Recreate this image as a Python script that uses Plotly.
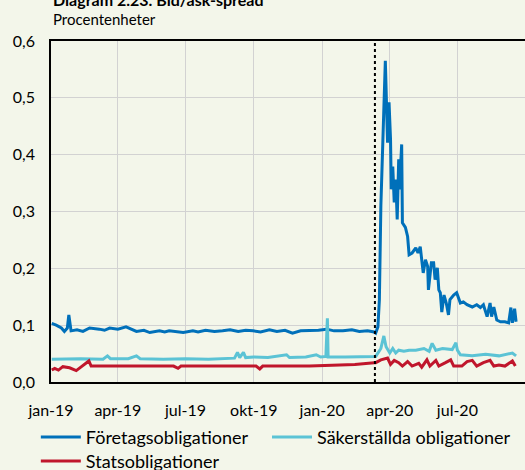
import plotly.graph_objects as go

# ---------------- data ----------------
foretag_dates = [
    "2019-01-02", "2019-01-08", "2019-01-15", "2019-01-19", "2019-01-23", "2019-01-25", "2019-01-28",
    "2019-02-05", "2019-02-13", "2019-02-22", "2019-03-07", "2019-03-14", "2019-03-21", "2019-04-01",
    "2019-04-12", "2019-04-19", "2019-04-26", "2019-05-06", "2019-05-14", "2019-05-27", "2019-06-03",
    "2019-06-09", "2019-06-18", "2019-06-28", "2019-07-11", "2019-07-18", "2019-07-28", "2019-08-09",
    "2019-08-20", "2019-08-30", "2019-09-10", "2019-09-20", "2019-09-30", "2019-10-10", "2019-10-22",
    "2019-11-01", "2019-11-12", "2019-11-22", "2019-12-03", "2019-12-15", "2019-12-27", "2020-01-07",
    "2020-01-17", "2020-01-29", "2020-02-10", "2020-02-20", "2020-03-02", "2020-03-11", "2020-03-13",
    "2020-03-16", "2020-03-18", "2020-03-20", "2020-03-24", "2020-03-26", "2020-03-29", "2020-03-31",
    "2020-04-02", "2020-04-03", "2020-04-05", "2020-04-07", "2020-04-09", "2020-04-11", "2020-04-13",
    "2020-04-14", "2020-04-17", "2020-04-18", "2020-04-22", "2020-04-25", "2020-04-27", "2020-05-01",
    "2020-05-06", "2020-05-09", "2020-05-12", "2020-05-14", "2020-05-16", "2020-05-19", "2020-05-22",
    "2020-05-23", "2020-05-27", "2020-05-30", "2020-06-01", "2020-06-04", "2020-06-06", "2020-06-08",
    "2020-06-10", "2020-06-13", "2020-06-16", "2020-06-19", "2020-06-21", "2020-06-26", "2020-06-30",
    "2020-07-05", "2020-07-09", "2020-07-14", "2020-07-21", "2020-07-27", "2020-08-01", "2020-08-05",
    "2020-08-10", "2020-08-14", "2020-08-16", "2020-08-19", "2020-08-23", "2020-08-28", "2020-09-03",
    "2020-09-08", "2020-09-11", "2020-09-13", "2020-09-16", "2020-09-18",
]
foretag = [
    0.103, 0.100, 0.095, 0.089, 0.095, 0.118, 0.090,
    0.092, 0.089, 0.095, 0.093, 0.091, 0.095, 0.093,
    0.097, 0.093, 0.089, 0.091, 0.087, 0.090, 0.088,
    0.090, 0.088, 0.087, 0.090, 0.088, 0.091, 0.089,
    0.090, 0.092, 0.089, 0.091, 0.090, 0.088, 0.092,
    0.089, 0.091, 0.086, 0.090, 0.090, 0.091, 0.093,
    0.090, 0.090, 0.092, 0.089, 0.090, 0.088, 0.086,
    0.097, 0.145, 0.310, 0.485, 0.565, 0.421, 0.492,
    0.427, 0.339, 0.379, 0.316, 0.356, 0.286, 0.392,
    0.339, 0.418, 0.280, 0.272, 0.256, 0.224, 0.227,
    0.236, 0.227, 0.238, 0.215, 0.192, 0.215, 0.203,
    0.162, 0.210, 0.210, 0.180, 0.201, 0.162, 0.157,
    0.123, 0.153, 0.139, 0.118, 0.145, 0.153, 0.157,
    0.139, 0.141, 0.136, 0.132, 0.136, 0.131, 0.136,
    0.115, 0.139, 0.115, 0.132, 0.109, 0.106, 0.106,
    0.104, 0.131, 0.104, 0.129, 0.106,
]

sakerstallda_dates = [
    "2019-01-02", "2019-02-10", "2019-03-12", "2019-03-18", "2019-03-22", "2019-04-15", "2019-04-26",
    "2019-05-01", "2019-06-01", "2019-07-01", "2019-08-01", "2019-09-05", "2019-09-09", "2019-09-12",
    "2019-09-17", "2019-09-20", "2019-10-01", "2019-10-20", "2019-11-14", "2019-11-18", "2019-12-10",
    "2019-12-24", "2019-12-30", "2020-01-06", "2020-01-08", "2020-01-09", "2020-02-01", "2020-03-01",
    "2020-03-11", "2020-03-13", "2020-03-20", "2020-03-24", "2020-03-27", "2020-04-01", "2020-04-05",
    "2020-04-09", "2020-04-13", "2020-04-20", "2020-04-27", "2020-05-06", "2020-05-17", "2020-05-24",
    "2020-05-28", "2020-06-02", "2020-06-11", "2020-06-24", "2020-06-29", "2020-07-01", "2020-07-05",
    "2020-07-21", "2020-08-08", "2020-08-26", "2020-09-13", "2020-09-18",
]
sakerstallda = [
    0.040, 0.041, 0.040, 0.046, 0.041, 0.041, 0.046,
    0.041, 0.040, 0.041, 0.040, 0.042, 0.052, 0.043,
    0.052, 0.043, 0.044, 0.043, 0.048, 0.043, 0.044,
    0.048, 0.044, 0.045, 0.112, 0.044, 0.044, 0.045,
    0.045, 0.045, 0.059, 0.081, 0.062, 0.051, 0.059,
    0.051, 0.056, 0.054, 0.056, 0.056, 0.059, 0.054,
    0.068, 0.056, 0.059, 0.057, 0.069, 0.056, 0.048,
    0.046, 0.049, 0.046, 0.051, 0.046,
]

stats_dates = [
    "2019-01-02", "2019-01-06", "2019-01-11", "2019-01-17", "2019-01-26", "2019-02-04", "2019-02-11",
    "2019-02-21", "2019-02-24", "2019-04-15", "2019-06-15", "2019-06-21", "2019-06-25", "2019-08-15",
    "2019-10-04", "2019-10-09", "2019-10-13", "2019-12-15", "2020-02-14", "2020-03-11", "2020-03-13",
    "2020-03-20", "2020-03-29", "2020-04-02", "2020-04-07", "2020-04-13", "2020-04-18", "2020-04-25",
    "2020-05-01", "2020-05-10", "2020-05-14", "2020-05-21", "2020-05-25", "2020-06-02", "2020-06-06",
    "2020-06-15", "2020-06-22", "2020-06-26", "2020-07-07", "2020-07-14", "2020-07-21", "2020-07-27",
    "2020-08-05", "2020-08-14", "2020-08-19", "2020-08-26", "2020-09-03", "2020-09-13", "2020-09-17",
]
stats = [
    0.021, 0.024, 0.021, 0.027, 0.025, 0.020, 0.027,
    0.037, 0.028, 0.028, 0.028, 0.024, 0.028, 0.028,
    0.028, 0.023, 0.028, 0.028, 0.031, 0.034, 0.034,
    0.039, 0.042, 0.031, 0.038, 0.034, 0.028, 0.036,
    0.028, 0.033, 0.026, 0.039, 0.028, 0.038, 0.028,
    0.034, 0.039, 0.028, 0.028, 0.036, 0.038, 0.028,
    0.034, 0.038, 0.028, 0.030, 0.028, 0.037, 0.028,
]

tick_dates = ["2019-01-01", "2019-04-01", "2019-07-01", "2019-10-01",
              "2020-01-01", "2020-04-01", "2020-07-01"]
tick_labels = ["jan-19", "apr-19", "jul-19", "okt-19", "jan-20", "apr-20", "jul-20"]
event_date = "2020-03-12"

series_names = ["Företagsobligationer", "Säkerställda obligationer", "Statsobligationer"]
series_colors = ["#0070BA", "#5BC3D5", "#C0162C"]

# ---------------- figure ----------------
BG = "#F3F6EA"
FONT = "Lato, 'Open Sans', sans-serif"

fig = go.Figure()
for name, xs, ys, col, leg in [
    (series_names[0], foretag_dates, foretag, series_colors[0], "legend"),
    (series_names[1], sakerstallda_dates, sakerstallda, series_colors[1], "legend2"),
    (series_names[2], stats_dates, stats, series_colors[2], "legend3"),
]:
    fig.add_trace(go.Scatter(x=xs, y=ys, mode="lines", name=name, legend=leg,
                             line=dict(color=col, width=3)))

fig.add_shape(type="line", xref="x", yref="y", x0=event_date, x1=event_date,
              y0=0, y1=0.6, line=dict(color="black", width=2, dash="dot"))

fig.add_annotation(text="<b>Diagram 2.23. Bid/ask-spread</b>", xref="paper", yref="paper",
                   x=0, y=1.123, xanchor="left", yanchor="middle", showarrow=False,
                   font=dict(size=16, color="black", family=FONT))
fig.add_annotation(text="Procentenheter", xref="paper", yref="paper",
                   x=0, y=1.064, xanchor="left", yanchor="middle", showarrow=False,
                   font=dict(size=15, color="black", family=FONT))

legend_common = dict(orientation="h", xanchor="left", yanchor="top", itemwidth=40,
                     font=dict(size=18, family=FONT), bgcolor="rgba(0,0,0,0)")

fig.update_layout(
    width=525, height=470,
    margin=dict(l=51, r=0, t=41, b=88, autoexpand=False),
    paper_bgcolor=BG, plot_bgcolor=BG,
    separators=", ",
    font=dict(family=FONT, size=16, color="black"),
    showlegend=True,
    legend=dict(x=-0.032, y=-0.108, **legend_common),
    legend2=dict(x=0.4557, y=-0.108, **legend_common),
    legend3=dict(x=-0.032, y=-0.178, **legend_common),
    xaxis=dict(type="date", range=["2019-01-01", "2020-09-30"],
               tickvals=tick_dates, ticktext=tick_labels, automargin=False,
               showgrid=True, gridcolor="#D2D2D2", gridwidth=1.3,
               showline=True, linecolor="black", linewidth=1.5, mirror=True,
               ticks="", ticklabelstandoff=13, zeroline=False),
    yaxis=dict(range=[0, 0.6], tickvals=[0, 0.1, 0.2, 0.3, 0.4, 0.5, 0.6],
               tickformat=".1f", automargin=False,
               showgrid=True, gridcolor="#D2D2D2", gridwidth=1.3,
               showline=True, linecolor="black", linewidth=1.5,
               ticks="", ticklabelstandoff=11, zeroline=False),
)

fig.write_html("out.html", config={"displayModeBar": False},
               post_script="document.body.style.margin='0';document.body.style.background='%s';" % BG)
